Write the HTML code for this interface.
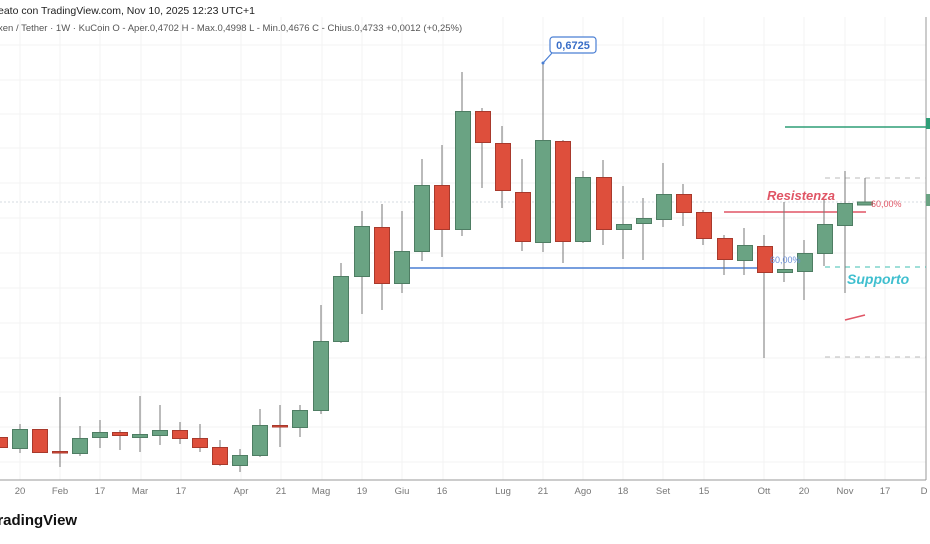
<!DOCTYPE html>
<html><head><meta charset="utf-8"><style>
html,body{margin:0;padding:0;background:#fff;}
body{width:930px;height:539px;overflow:hidden;font-family:"Liberation Sans",sans-serif;}
</style></head><body>
<svg width="930" height="539" xmlns="http://www.w3.org/2000/svg" font-family="Liberation Sans, sans-serif">
<g stroke="#f3f3f3" stroke-width="1">
<line x1="0" y1="45" x2="926" y2="45"/><line x1="0" y1="80" x2="926" y2="80"/><line x1="0" y1="114" x2="926" y2="114"/><line x1="0" y1="148" x2="926" y2="148"/><line x1="0" y1="183" x2="926" y2="183"/><line x1="0" y1="218" x2="926" y2="218"/><line x1="0" y1="253" x2="926" y2="253"/><line x1="0" y1="288" x2="926" y2="288"/><line x1="0" y1="323" x2="926" y2="323"/><line x1="0" y1="358" x2="926" y2="358"/><line x1="0" y1="392" x2="926" y2="392"/><line x1="0" y1="427" x2="926" y2="427"/><line x1="0" y1="462" x2="926" y2="462"/>
<line x1="20" y1="17" x2="20" y2="480"/><line x1="60" y1="17" x2="60" y2="480"/><line x1="100" y1="17" x2="100" y2="480"/><line x1="141" y1="17" x2="141" y2="480"/><line x1="181" y1="17" x2="181" y2="480"/><line x1="241" y1="17" x2="241" y2="480"/><line x1="281" y1="17" x2="281" y2="480"/><line x1="322" y1="17" x2="322" y2="480"/><line x1="362" y1="17" x2="362" y2="480"/><line x1="402" y1="17" x2="402" y2="480"/><line x1="443" y1="17" x2="443" y2="480"/><line x1="503" y1="17" x2="503" y2="480"/><line x1="543" y1="17" x2="543" y2="480"/><line x1="583" y1="17" x2="583" y2="480"/><line x1="623" y1="17" x2="623" y2="480"/><line x1="663" y1="17" x2="663" y2="480"/><line x1="704" y1="17" x2="704" y2="480"/><line x1="764" y1="17" x2="764" y2="480"/><line x1="804" y1="17" x2="804" y2="480"/><line x1="845" y1="17" x2="845" y2="480"/><line x1="885" y1="17" x2="885" y2="480"/>
</g>
<line x1="0" y1="202" x2="926" y2="202" stroke="#d5dbe0" stroke-dasharray="2,2"/>
<line x1="0" y1="480" x2="926" y2="480" stroke="#999"/>
<line x1="926" y1="17" x2="926" y2="480" stroke="#999"/>
<rect x="926" y="118" width="4" height="11" fill="#2f9e77"/>
<rect x="926" y="194" width="4" height="12" fill="#6aa383"/>
<line x1="410" y1="268" x2="770" y2="268" stroke="#4a7fd4" stroke-width="1.5"/>
<line x1="785" y1="127" x2="926" y2="127" stroke="#2f9e77" stroke-width="1.5"/>
<line x1="825" y1="178" x2="926" y2="178" stroke="#bbb" stroke-dasharray="5,5"/>
<line x1="825" y1="357" x2="926" y2="357" stroke="#bbb" stroke-dasharray="5,5"/>
<line x1="825" y1="267" x2="926" y2="267" stroke="#3fbfb0" stroke-dasharray="5,5"/>
<line x1="724" y1="212" x2="866" y2="212" stroke="#e05565" stroke-width="1.5"/>
<line x1="845" y1="320" x2="865" y2="315" stroke="#e05565" stroke-width="1.5"/>
<g stroke="#777" stroke-width="1">
<line x1="20" y1="424" x2="20" y2="453"/><line x1="60" y1="397" x2="60" y2="467"/><line x1="80" y1="426" x2="80" y2="456"/><line x1="100" y1="420" x2="100" y2="448"/><line x1="120" y1="430" x2="120" y2="450"/><line x1="140" y1="396" x2="140" y2="452"/><line x1="160" y1="405" x2="160" y2="445"/><line x1="180" y1="422" x2="180" y2="444"/><line x1="200" y1="424" x2="200" y2="452"/><line x1="220" y1="440" x2="220" y2="466"/><line x1="240" y1="449" x2="240" y2="472"/><line x1="260" y1="409" x2="260" y2="457"/><line x1="280" y1="405" x2="280" y2="447"/><line x1="300" y1="405" x2="300" y2="437"/><line x1="321" y1="305" x2="321" y2="414"/><line x1="341" y1="263" x2="341" y2="343"/><line x1="362" y1="211" x2="362" y2="314"/><line x1="382" y1="204" x2="382" y2="310"/><line x1="402" y1="211" x2="402" y2="293"/><line x1="422" y1="159" x2="422" y2="261"/><line x1="442" y1="145" x2="442" y2="257"/><line x1="462" y1="72" x2="462" y2="236"/><line x1="482" y1="108" x2="482" y2="188"/><line x1="502" y1="126" x2="502" y2="208"/><line x1="522" y1="159" x2="522" y2="251"/><line x1="543" y1="63" x2="543" y2="252"/><line x1="563" y1="140" x2="563" y2="263"/><line x1="583" y1="171" x2="583" y2="243"/><line x1="603" y1="160" x2="603" y2="245"/><line x1="623" y1="186" x2="623" y2="259"/><line x1="643" y1="198" x2="643" y2="260"/><line x1="663" y1="163" x2="663" y2="227"/><line x1="683" y1="184" x2="683" y2="226"/><line x1="703" y1="210" x2="703" y2="245"/><line x1="724" y1="235" x2="724" y2="275"/><line x1="744" y1="228" x2="744" y2="275"/><line x1="764" y1="235" x2="764" y2="358"/><line x1="784" y1="202" x2="784" y2="282"/><line x1="804" y1="240" x2="804" y2="300"/><line x1="824" y1="200" x2="824" y2="266"/><line x1="845" y1="171" x2="845" y2="293"/><line x1="865" y1="178" x2="865" y2="205"/>
</g>
<g stroke="#4e7d63" stroke-width="1" fill="#6aa383">
<rect x="12.5" y="429.5" width="15" height="19"/><rect x="72.5" y="438.5" width="15" height="15"/><rect x="92.5" y="432.5" width="15" height="5"/><rect x="132.5" y="434.5" width="15" height="3"/><rect x="152.5" y="430.5" width="15" height="5"/><rect x="232.5" y="455.5" width="15" height="10"/><rect x="252.5" y="425.5" width="15" height="30"/><rect x="292.5" y="410.5" width="15" height="17"/><rect x="313.5" y="341.5" width="15" height="69"/><rect x="333.5" y="276.5" width="15" height="65"/><rect x="354.5" y="226.5" width="15" height="50"/><rect x="394.5" y="251.5" width="15" height="32"/><rect x="414.5" y="185.5" width="15" height="66"/><rect x="455.5" y="111.5" width="15" height="118"/><rect x="535.5" y="140.5" width="15" height="102"/><rect x="575.5" y="177.5" width="15" height="64"/><rect x="616.5" y="224.5" width="15" height="5"/><rect x="636.5" y="218.5" width="15" height="5"/><rect x="656.5" y="194.5" width="15" height="25"/><rect x="737.5" y="245.5" width="15" height="15"/><rect x="777.5" y="269.5" width="15" height="3"/><rect x="797.5" y="253.5" width="15" height="18"/><rect x="817.5" y="224.5" width="15" height="29"/><rect x="837.5" y="203.5" width="15" height="22"/><rect x="857.5" y="202" width="15" height="3"/>
</g>
<g stroke="#a8392c" stroke-width="1" fill="#de4f3c">
<rect x="-7.5" y="437.5" width="15" height="10"/><rect x="32.5" y="429.5" width="15" height="23"/><rect x="52.5" y="451.5" width="15" height="1.5"/><rect x="112.5" y="432.5" width="15" height="3"/><rect x="172.5" y="430.5" width="15" height="8"/><rect x="192.5" y="438.5" width="15" height="9"/><rect x="212.5" y="447.5" width="15" height="17"/><rect x="272.5" y="425.5" width="15" height="1.5"/><rect x="374.5" y="227.5" width="15" height="56"/><rect x="434.5" y="185.5" width="15" height="44"/><rect x="475.5" y="111.5" width="15" height="31"/><rect x="495.5" y="143.5" width="15" height="47"/><rect x="515.5" y="192.5" width="15" height="49"/><rect x="555.5" y="141.5" width="15" height="100"/><rect x="596.5" y="177.5" width="15" height="52"/><rect x="676.5" y="194.5" width="15" height="18"/><rect x="696.5" y="212.5" width="15" height="26"/><rect x="717.5" y="238.5" width="15" height="21"/><rect x="757.5" y="246.5" width="15" height="26"/>
</g>
<circle cx="543" cy="63" r="1.5" fill="#4a7fd4"/>
<path d="M543 63 L552 53" stroke="#4a7fd4" stroke-width="1.2"/>
<rect x="550" y="37" width="46" height="16" rx="3" fill="#fff" stroke="#4a7fd4" stroke-width="1.2"/>
<text x="573" y="49" font-size="11" font-weight="bold" fill="#3a6fc8" text-anchor="middle">0,6725</text>
<text x="767" y="200" font-size="13" font-weight="bold" font-style="italic" fill="#e05565">Resistenza</text>
<text x="871" y="207" font-size="9" fill="#e05565">60,00%</text>
<text x="770" y="263" font-size="9" fill="#6a8fd8">60,00%</text>
<text x="847" y="284" font-size="14" font-weight="bold" font-style="italic" fill="#3fbfcf">Supporto</text>
<text x="-2" y="14" font-size="10.5" fill="#222">eato con TradingView.com, Nov 10, 2025 12:23 UTC+1</text>
<text x="-2" y="31" font-size="9.5" fill="#555">xen / Tether · 1W · KuCoin  O - Aper.0,4702  H - Max.0,4998  L - Min.0,4676  C - Chius.0,4733  +0,0012 (+0,25%)</text>
<g font-size="9.5" fill="#777" text-anchor="middle">
<text x="20" y="494">20</text><text x="60" y="494">Feb</text><text x="100" y="494">17</text><text x="140" y="494">Mar</text><text x="181" y="494">17</text><text x="241" y="494">Apr</text><text x="281" y="494">21</text><text x="321" y="494">Mag</text><text x="362" y="494">19</text><text x="402" y="494">Giu</text><text x="442" y="494">16</text><text x="503" y="494">Lug</text><text x="543" y="494">21</text><text x="583" y="494">Ago</text><text x="623" y="494">18</text><text x="663" y="494">Set</text><text x="704" y="494">15</text><text x="764" y="494">Ott</text><text x="804" y="494">20</text><text x="845" y="494">Nov</text><text x="885" y="494">17</text><text x="924" y="494">D</text>
</g>
<text x="-11" y="525" font-size="15" font-weight="bold" fill="#111">TradingView</text>
</svg>
</body></html>
